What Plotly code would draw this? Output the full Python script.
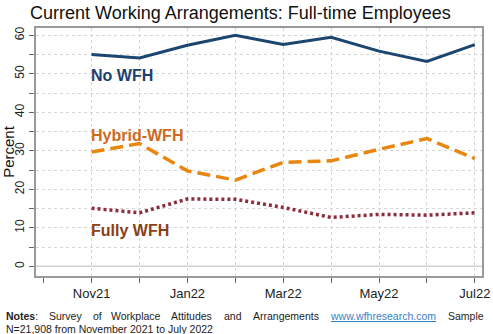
import plotly.graph_objects as go

# Survey months (Oct21 is an axis tick only, no data)
months = ["Oct21", "Nov21", "Dec21", "Jan22", "Feb22", "Mar22", "Apr22", "May22", "Jun22", "Jul22"]
labeled = ["Nov21", "Jan22", "Mar22", "May22", "Jul22"]
data_months = months[1:]

no_wfh = [55.0, 54.1, 57.4, 60.0, 57.6, 59.5, 55.9, 53.2, 57.6]
hybrid_wfh = [29.7, 31.9, 24.8, 22.4, 27.0, 27.4, 30.4, 33.2, 28.0]
fully_wfh = [15.1, 13.9, 17.5, 17.4, 15.3, 12.7, 13.5, 13.3, 13.9]

y_ticks = [0, 10, 20, 30, 40, 50, 60]

xpos = {m: i for i, m in enumerate(months)}
xs = [xpos[m] for m in data_months]

fig = go.Figure()
fig.add_trace(go.Scatter(x=xs, y=no_wfh, mode="lines", name="No WFH",
                         line=dict(color="#1b466f", width=3)))
fig.add_trace(go.Scatter(x=xs, y=hybrid_wfh, mode="lines", name="Hybrid-WFH",
                         line=dict(color="#e8870f", width=3.5, dash="13px,6px")))
fig.add_trace(go.Scatter(x=xs, y=fully_wfh, mode="lines", name="Fully WFH",
                         line=dict(color="#8b2e3c", width=3.5, dash="3px,3px")))

# zero reference line
fig.add_shape(type="line", xref="paper", x0=0, x1=1, yref="y", y0=0, y1=0,
              line=dict(color="#d0d0d0", width=1.5), layer="below")

# Series labels placed beside the lines
series_labels = [("No WFH", 49.5, "#1b3f6f"), ("Hybrid-WFH", 34.0, "#cf691d"), ("Fully WFH", 9.2, "#8a4017")]
for text, yv, col in series_labels:
    fig.add_annotation(x=xpos["Nov21"], y=yv, text=f"<b>{text}</b>", showarrow=False,
                       xanchor="left", yanchor="middle", xshift=-3,
                       font=dict(family="Liberation Sans, Arial", size=16, color=col))

# Notes block (justified first line)
note_words = [("<b>Notes</b>:", 4), ("Survey", 47), ("of", 91), ("Workplace", 109),
              ("Attitudes", 169), ("and", 222), ("Arrangements", 251),
              ("<span style='text-decoration:underline'>www.wfhresearch.com</span>", 328),
              ("Sample", 446)]
for word, px in note_words:
    color = "#3a7fc4" if "wfhresearch" in word else "#222222"
    fig.add_annotation(xref="paper", yref="paper", x=(px - 36) / 446, y=-(316 - 276) / 248.5,
                       text=word, showarrow=False, xanchor="left", yanchor="middle",
                       font=dict(family="Liberation Sans, Arial", size=10.5, color=color))
fig.add_annotation(xref="paper", yref="paper", x=(4 - 36) / 446, y=-(329 - 276) / 248.5,
                   text="N=21,908 from November 2021 to July 2022", showarrow=False,
                   xanchor="left", yanchor="middle",
                   font=dict(family="Liberation Sans, Arial", size=10.5, color="#222222"))

fig.update_layout(
    width=493, height=334,
    margin=dict(l=36, r=11, t=27.5, b=58),
    paper_bgcolor="white", plot_bgcolor="white",
    showlegend=False,
    title=dict(text="Current Working Arrangements: Full-time Employees",
               x=30 / 493, xanchor="left", y=1 - 13 / 334, yanchor="middle",
               font=dict(family="Liberation Sans, Arial", size=18, color="#111111")),
)

fig.update_xaxes(
    automargin=False,
    range=[-0.16, 9.15],
    tickvals=list(range(1, len(months))),
    ticktext=[m if m in labeled else "" for m in months[1:]],
    ticks="outside", ticklen=5, tickcolor="#666666",
    minor=dict(tick0=0, dtick=1, ticks="outside", ticklen=5, tickcolor="#666666", showgrid=False),
    showgrid=True, gridcolor="#d6d6d6", griddash="dot", gridwidth=1,
    showline=True, linecolor="#999999", linewidth=1.5, mirror=True,
    zeroline=False,
    tickfont=dict(family="Liberation Sans, Arial", size=13, color="#222222"),
)
fig.update_yaxes(
    automargin=False,
    range=[-2.5, 61.9],
    tickvals=y_ticks, tickangle=-90,
    ticks="outside", ticklen=5, tickcolor="#666666",
    minor=dict(dtick=5, ticks="outside", ticklen=5, tickcolor="#666666",
               showgrid=True, gridcolor="#d6d6d6", griddash="dot", gridwidth=1),
    showgrid=True, gridcolor="#d6d6d6", griddash="dot", gridwidth=1,
    showline=True, linecolor="#999999", linewidth=1.5, mirror=True,
    zeroline=False,
    title=dict(text="Percent", standoff=2,
               font=dict(family="Liberation Sans, Arial", size=15, color="#111111")),
    tickfont=dict(family="Liberation Sans, Arial", size=12, color="#222222"),
)

fig.write_html("out.html")
